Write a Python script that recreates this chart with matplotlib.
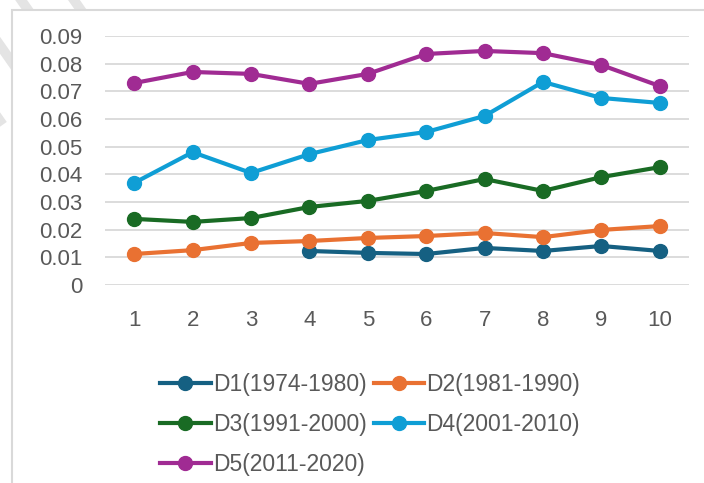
import numpy as np
import matplotlib.pyplot as plt
from matplotlib.patches import Rectangle
from matplotlib.lines import Line2D

plt.rcParams['font.family'] = ['Liberation Sans', 'DejaVu Sans']

x = np.arange(1, 11)
labels = ["D1(1974-1980)", "D2(1981-1990)", "D3(1991-2000)", "D4(2001-2010)", "D5(2011-2020)"]
colors = ["#156082", "#E97132", "#196B24", "#0F9ED5", "#A02B93"]

d1 = [np.nan, np.nan, np.nan, 0.0123, 0.0116, 0.0112, 0.0134, 0.0123, 0.0141, 0.0123]
d2 = [0.0112, 0.0126, 0.0152, 0.0159, 0.0170, 0.0177, 0.0188, 0.0173, 0.0199, 0.0213]
d3 = [0.0239, 0.0228, 0.0242, 0.0282, 0.0304, 0.0340, 0.0383, 0.0340, 0.0390, 0.0426]
d4 = [0.0369, 0.0480, 0.0405, 0.0473, 0.0524, 0.0553, 0.0611, 0.0734, 0.0676, 0.0658]
d5 = [0.0730, 0.0770, 0.0763, 0.0727, 0.0763, 0.0835, 0.0846, 0.0838, 0.0795, 0.0719]
series = [d1, d2, d3, d4, d5]

fig = plt.figure(figsize=(7.04, 4.83), dpi=100)

# faint hatched stripes outside the chart frame (top-left corner)
for off in np.arange(-0.12, 0.16, 0.075):
    fig.add_artist(Line2D([off, off + 0.12], [1.0, 0.75], transform=fig.transFigure,
                          color="#e4e4e4", lw=7, zorder=0))
fig.add_artist(Rectangle((12 / 704, -0.1), 1.2, 1.1 - 10 / 483, transform=fig.transFigure,
                         facecolor="white", edgecolor="#d9d9d9", lw=1.5, zorder=1))

ax = fig.add_axes([105 / 704, 1 - 285 / 483, 584 / 704, 249 / 483])
ax.set_facecolor("none")
ax.set_zorder(2)

for s, c, lab in zip(series, colors, labels):
    ax.plot(x, s, color=c, lw=3, marker="o", ms=10, label=lab, clip_on=False, zorder=3)

ax.set_xlim(0.5, 10.5)
ax.set_ylim(0, 0.09)
ax.set_yticks(np.arange(0, 0.091, 0.01))
ax.set_yticklabels(["0"] + [f"{v:.2f}" for v in np.arange(0.01, 0.091, 0.01)])
ax.set_xticks(x)
ax.grid(axis="y", color="#d9d9d9", lw=1.3)
ax.set_axisbelow(True)
for sp in ax.spines.values():
    sp.set_visible(False)
ax.tick_params(length=0, labelsize=16, labelcolor="#595959")
ax.tick_params(axis="y", pad=16.5)
ax.tick_params(axis="x", pad=18)

handles, labs = ax.get_legend_handles_labels()
order = [0, 2, 4, 1, 3]
leg = fig.legend([handles[i] for i in order], [labs[i] for i in order], ncol=2,
                 loc="upper left", bbox_to_anchor=(151 / 704, 1 - 364 / 483),
                 frameon=False, fontsize=16.5, handlelength=2.2, handletextpad=0.1,
                 columnspacing=0.3, labelspacing=0.74, labelcolor="#595959",
                 borderaxespad=0)
leg.set_zorder(3)

fig.savefig("out.png", dpi=100)
